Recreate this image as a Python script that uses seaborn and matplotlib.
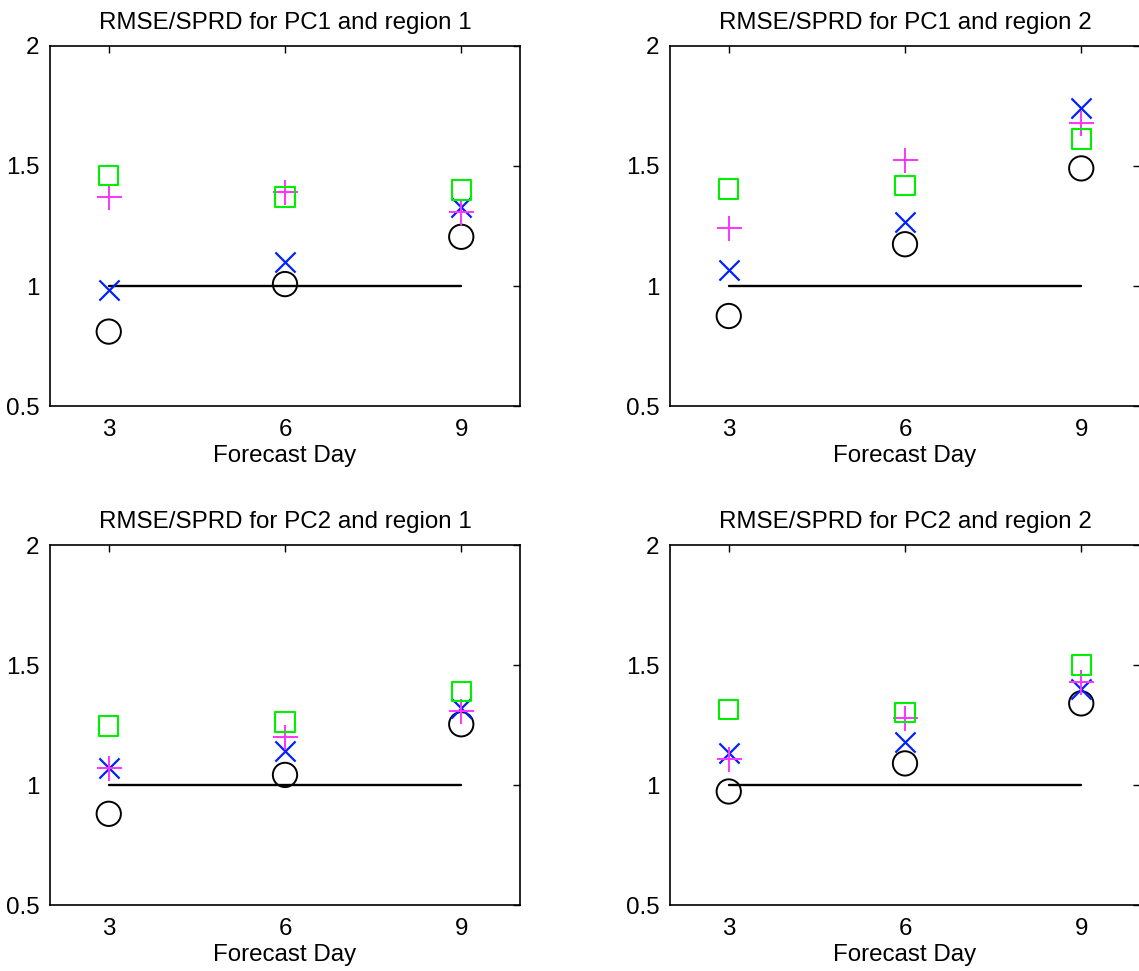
import matplotlib
matplotlib.use("Agg")
import matplotlib.pyplot as plt
import seaborn as sns
import pandas as pd

days = [3, 6, 9]
ref_line = [1.0, 1.0, 1.0]

titles = ["RMSE/SPRD for PC1 and region 1", "RMSE/SPRD for PC1 and region 2",
          "RMSE/SPRD for PC2 and region 1", "RMSE/SPRD for PC2 and region 2"]

# series per panel: circle (black), x (blue), plus (magenta), square (green)
circle_vals = [[0.81, 1.008, 1.205], [0.875, 1.174, 1.49],
               [0.88, 1.042, 1.253], [0.973, 1.09, 1.34]]
x_vals = [[0.983, 1.10, 1.33], [1.067, 1.265, 1.74],
          [1.07, 1.14, 1.32], [1.133, 1.18, 1.40]]
plus_vals = [[1.37, 1.39, 1.31], [1.24, 1.523, 1.68],
             [1.07, 1.20, 1.31], [1.11, 1.28, 1.43]]
square_vals = [[1.46, 1.37, 1.40], [1.404, 1.418, 1.613],
               [1.245, 1.263, 1.39], [1.315, 1.302, 1.50]]

yticks = [0.5, 1, 1.5, 2]
ytick_labels = ["0.5", "1", "1.5", "2"]

sns.set_style("white")
plt.rcParams["font.family"] = ["Liberation Sans", "DejaVu Sans"]
plt.rcParams["axes.linewidth"] = 1.2
plt.rcParams["text.color"] = "black"
plt.rcParams["axes.labelcolor"] = "black"
plt.rcParams["xtick.color"] = "black"
plt.rcParams["ytick.color"] = "black"

W, H = 1139, 971
fig = plt.figure(figsize=(W / 100, H / 100), dpi=100)

lefts = [50, 670, 50, 670]
tops = [46, 46, 545, 545]
aw, ah = 470, 360

FS = 17.4
for i in range(4):
    ax = fig.add_axes([lefts[i] / W, 1 - (tops[i] + ah) / H, aw / W, ah / H])
    sns.lineplot(x=days, y=ref_line, ax=ax, color="black", linewidth=1.7)
    sns.scatterplot(x=days, y=circle_vals[i], ax=ax, marker="o", s=17.5 ** 2,
                    facecolors="none", edgecolors="black", linewidths=1.4, zorder=3)
    sns.scatterplot(x=days, y=x_vals[i], ax=ax, marker="x", s=14.5 ** 2,
                    color="#0022ff", linewidths=1.6, zorder=3)
    sns.scatterplot(x=days, y=plus_vals[i], ax=ax, marker="+", s=18 ** 2,
                    color="#ff33ff", linewidths=1.4, zorder=3)
    sns.scatterplot(x=days, y=square_vals[i], ax=ax, marker="s", s=14 ** 2,
                    facecolors="none", edgecolors="#00ee00", linewidths=1.5, zorder=3)
    ax.set_xlim(2, 10)
    ax.set_ylim(0.5, 2)
    ax.set_xticks(days)
    ax.set_xticklabels([str(d) for d in days])
    ax.set_yticks(yticks)
    ax.set_yticklabels(ytick_labels)
    ax.tick_params(direction="in", top=True, right=True, length=5, width=1,
                   labelsize=FS)
    ax.tick_params(axis="x", pad=9.5)
    ax.tick_params(axis="y", pad=7.5)
    for s in ax.spines.values():
        s.set_visible(True)
        s.set_color("black")
    ax.set_title(titles[i], fontsize=FS, pad=12)
    ax.set_xlabel("Forecast Day", fontsize=FS, labelpad=3)
    ax.set_ylabel("")

fig.savefig("out.png", dpi=100, facecolor="white")
